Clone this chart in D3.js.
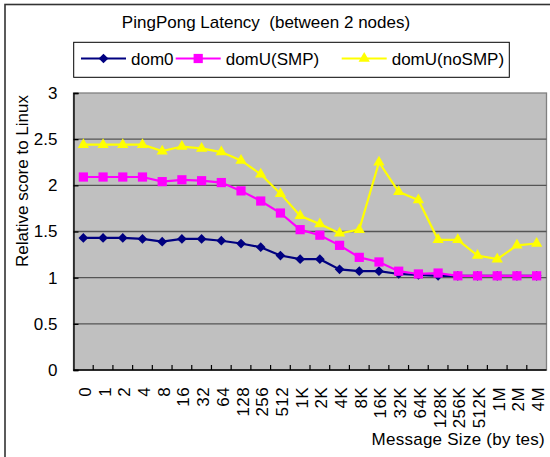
<!DOCTYPE html>
<html>
<head>
<meta charset="utf-8">
<script src="https://cdn.jsdelivr.net/npm/d3@7/dist/d3.min.js"></script>
<style>
  html, body { margin: 0; padding: 0; background: #fff; }
  svg { display: block; font-family: Arial, "Liberation Sans", sans-serif; }
</style>
</head>
<body>
<svg id="chart" width="550" height="457"></svg>
<script>
// Message sizes (x categories)
const sizes = ["0", "1", "2", "4", "8", "16", "32", "64", "128", "256", "512",
  "1K", "2K", "4K", "8K", "16K", "32K", "64K", "128K", "256K", "512K", "1M", "2M", "4M"];

// Relative latency score to Linux, per message size
const dom0 = [1.43, 1.43, 1.43, 1.42, 1.39, 1.42, 1.42, 1.40, 1.37, 1.33, 1.24,
  1.20, 1.20, 1.09, 1.07, 1.07, 1.04, 1.03, 1.02, 1.02, 1.02, 1.02, 1.02, 1.02];
const domuSMP = [2.09, 2.09, 2.09, 2.09, 2.04, 2.06, 2.05, 2.03, 1.94, 1.83, 1.70,
  1.52, 1.46, 1.35, 1.22, 1.17, 1.07, 1.04, 1.05, 1.02, 1.02, 1.02, 1.02, 1.02];
const domuNoSMP = [2.44, 2.44, 2.44, 2.44, 2.37, 2.42, 2.40, 2.36, 2.27, 2.12, 1.91,
  1.67, 1.58, 1.48, 1.52, 2.25, 1.93, 1.84, 1.41, 1.41, 1.24, 1.20, 1.35, 1.37];

const yTicks = [0, 0.5, 1, 1.5, 2, 2.5, 3];

// Square diamond marker (equal width and height)
const diamond = {
  draw(ctx, size) {
    const r = Math.sqrt(size) / 2;
    ctx.moveTo(0, -r); ctx.lineTo(r, 0); ctx.lineTo(0, r); ctx.lineTo(-r, 0); ctx.closePath();
  }
};

const series = [
  { name: "dom0", values: dom0, color: "#000080", marker: diamond, size: 95 },
  { name: "domU(SMP)", values: domuSMP, color: "#ff00ff", marker: d3.symbolSquare, size: 85 },
  { name: "domU(noSMP)", values: domuNoSMP, color: "#ffff00", marker: d3.symbolTriangle, size: 55 }
];

const FS = 17;
const svg = d3.select("#chart");
const plot = { left: 73.5, right: 546.5, top: 93, bottom: 370 };

// Outer chart frame
svg.append("rect")
  .attr("x", 5).attr("y", 4.5).attr("width", 600).attr("height", 500)
  .attr("fill", "none").attr("stroke", "#333").attr("stroke-width", 1.6);

const x = d3.scaleBand().domain(sizes).range([plot.left, plot.right]).padding(0);
const y = d3.scaleLinear().domain([0, 3]).range([plot.bottom, plot.top]);
const cx = d => x(d) + x.bandwidth() / 2;

// Plot background
svg.append("rect")
  .attr("x", plot.left).attr("y", plot.top)
  .attr("width", plot.right - plot.left).attr("height", plot.bottom - plot.top)
  .attr("fill", "#c0c0c0").attr("stroke", "#808080").attr("stroke-width", 1.3);

// Horizontal gridlines
svg.append("g").selectAll("line")
  .data(yTicks.filter(t => t > 0 && t < 3))
  .join("line")
  .attr("x1", plot.left).attr("x2", plot.right)
  .attr("y1", d => y(d)).attr("y2", d => y(d))
  .attr("stroke", "#555").attr("stroke-width", 1.3);

// Y axis
const yAxis = svg.append("g")
  .attr("transform", `translate(${plot.left},0)`)
  .call(d3.axisLeft(y).tickValues(yTicks).tickSize(-5).tickPadding(16).tickFormat(d => String(d)));
yAxis.select(".domain").attr("stroke", "#000").attr("stroke-width", 1.3);
yAxis.selectAll(".tick line").attr("stroke", "#000").attr("stroke-width", 1.3);
yAxis.selectAll("text").attr("font-size", FS).attr("fill", "#000")
  .attr("font-family", "Arial, 'Liberation Sans', sans-serif");

// X axis: ticks sit on category boundaries, pointing inward
const xAxisG = svg.append("g").attr("transform", `translate(0,${plot.bottom})`);
xAxisG.append("line")
  .attr("x1", plot.left).attr("x2", plot.right)
  .attr("stroke", "#000").attr("stroke-width", 1.3);
xAxisG.selectAll("line.tk")
  .data(sizes.slice(1))
  .join("line").attr("class", "tk")
  .attr("x1", d => x(d)).attr("x2", d => x(d))
  .attr("y1", 0).attr("y2", -5)
  .attr("stroke", "#000").attr("stroke-width", 1.2);
xAxisG.selectAll("text")
  .data(sizes)
  .join("text")
  .attr("transform", d => `translate(${cx(d) + 7.5},17) rotate(-90)`)
  .attr("text-anchor", "end")
  .attr("font-size", FS)
  .attr("letter-spacing", 0.4)
  .attr("fill", "#000")
  .text(d => d);

// Series lines and markers
const line = d3.line()
  .x((d, i) => cx(sizes[i]))
  .y(d => y(d));

series.forEach(s => {
  svg.append("path")
    .datum(s.values)
    .attr("d", line)
    .attr("fill", "none")
    .attr("stroke", s.color)
    .attr("stroke-width", 2.2);
  svg.append("g").selectAll("path")
    .data(s.values)
    .join("path")
    .attr("transform", (d, i) => `translate(${cx(sizes[i])},${y(d)})`)
    .attr("d", d3.symbol().type(s.marker).size(s.size))
    .attr("fill", s.color);
});

// Title
svg.append("text")
  .attr("x", 266).attr("y", 28)
  .attr("text-anchor", "middle")
  .attr("font-size", FS)
  .attr("fill", "#000")
  .attr("xml:space", "preserve")
  .text("PingPong Latency  (between 2 nodes)");

// Legend
const legend = svg.append("g");
legend.append("rect")
  .attr("x", 73.7).attr("y", 42.3).attr("width", 435.6).attr("height", 35)
  .attr("fill", "#fff").attr("stroke", "#000").attr("stroke-width", 1);
const legendX = [81, 175.7, 341.7];
series.forEach((s, i) => {
  const lx = legendX[i];
  legend.append("line")
    .attr("x1", lx).attr("x2", lx + 45).attr("y1", 58.5).attr("y2", 58.5)
    .attr("stroke", s.color).attr("stroke-width", 2.2);
  legend.append("path")
    .attr("transform", `translate(${lx + 22.5},58.5)`)
    .attr("d", d3.symbol().type(s.marker).size(s.size))
    .attr("fill", s.color);
  legend.append("text")
    .attr("x", lx + 50).attr("y", 64.5)
    .attr("font-size", FS).attr("fill", "#000")
    .text(s.name);
});

// Axis titles
svg.append("text")
  .attr("transform", "translate(28,181) rotate(-90)")
  .attr("text-anchor", "middle")
  .attr("font-size", FS).attr("fill", "#000")
  .text("Relative score to Linux");

svg.append("text")
  .attr("x", 545).attr("y", 445)
  .attr("text-anchor", "end")
  .attr("font-size", FS).attr("letter-spacing", 0.25).attr("fill", "#000")
  .text("Message Size (by tes)");
</script>
</body>
</html>
